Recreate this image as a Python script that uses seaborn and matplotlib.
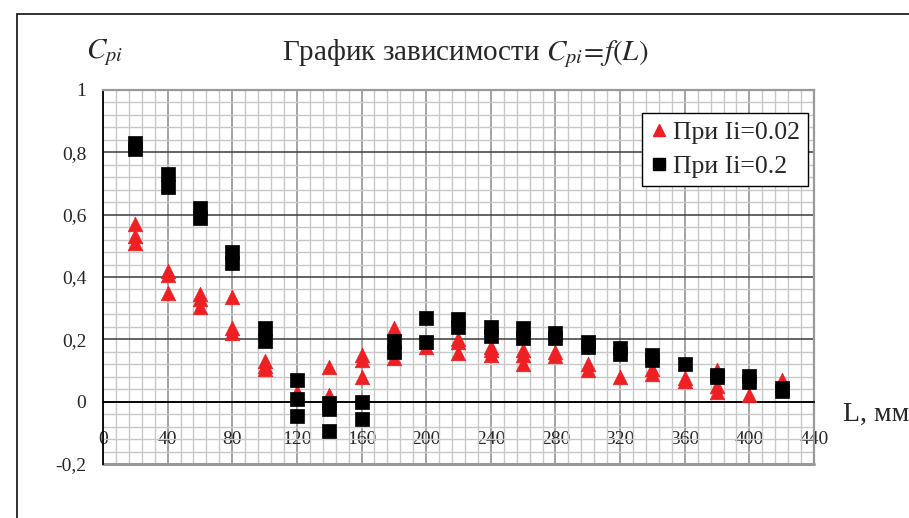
import matplotlib
matplotlib.use("Agg")
import matplotlib.pyplot as plt
from matplotlib.ticker import MultipleLocator, FixedLocator, FuncFormatter
from matplotlib.lines import Line2D
from matplotlib.patches import Rectangle
import numpy as np
import pandas as pd
import seaborn as sns

# Measured pressure coefficient C_pi versus distance L (mm)
L_low = [20, 20, 20, 40, 40, 40, 60, 60, 60, 80, 80, 80, 100, 100, 100,
         120, 140, 140, 160, 160, 160, 180, 180, 180, 200,
         220, 220, 220, 240, 240, 240, 260, 260, 260, 280, 280,
         300, 300, 320, 340, 340, 360, 360, 380, 380, 380, 400, 420]
Cp_low = [0.57, 0.53, 0.51, 0.42, 0.405, 0.35, 0.345, 0.33, 0.305, 0.335, 0.235, 0.22,
          0.13, 0.115, 0.105, 0.03, 0.11, 0.02, 0.15, 0.135, 0.08, 0.235, 0.17, 0.14,
          0.175, 0.20, 0.19, 0.155, 0.175, 0.165, 0.15, 0.165, 0.15, 0.12, 0.16, 0.145,
          0.12, 0.10, 0.08, 0.105, 0.09, 0.075, 0.065, 0.10, 0.05, 0.03, 0.02, 0.07]

L_high = [20, 20, 40, 40, 60, 60, 80, 80, 100, 100, 120, 120, 120,
          140, 140, 140, 160, 160, 180, 180, 200, 200, 220, 220, 240, 240,
          260, 260, 280, 280, 300, 300, 320, 320, 340, 340, 360, 380, 380,
          400, 400, 420, 420]
Cp_high = [0.83, 0.81, 0.73, 0.69, 0.62, 0.59, 0.48, 0.445, 0.235, 0.195,
           0.068, 0.01, -0.045, -0.005, -0.025, -0.095, 0.0, -0.055, 0.195, 0.16,
           0.268, 0.19, 0.265, 0.24, 0.24, 0.212, 0.236, 0.204, 0.22, 0.205,
           0.19, 0.175, 0.172, 0.153, 0.149, 0.133, 0.121, 0.087, 0.08,
           0.081, 0.064, 0.045, 0.035]

series_labels = ["При Ii=0.02", "При Ii=0.2"]
x_ticks = list(range(0, 441, 40))
y_ticks = [-0.2, 0, 0.2, 0.4, 0.6, 0.8, 1.0]

RED = "#ee2024"

sns.set_style("white")
plt.rcParams["font.family"] = ["Liberation Serif", "DejaVu Serif"]
plt.rcParams["mathtext.fontset"] = "stix"

W, H = 909, 518
fig = plt.figure(figsize=(W / 100, H / 100), dpi=100)
fig.patch.set_facecolor("white")

# chart-area frame
fig.patches.append(Rectangle((17 / W, -0.1), 1.2, 1 - 14 / H + 0.1,
                             transform=fig.transFigure, fill=False,
                             edgecolor="#222222", linewidth=1.3))

left, right, top, bottom = 103 / W, 814 / W, 1 - 90 / H, 1 - 464 / H
ax = fig.add_axes([left, bottom, right - left, top - bottom])

df_low = pd.DataFrame({"L": L_low, "Cp": Cp_low})
df_high = pd.DataFrame({"L": L_high, "Cp": Cp_high})

sns.scatterplot(data=df_low, x="L", y="Cp", ax=ax, marker="^", s=110,
                color=RED, edgecolor=RED, linewidth=0.5, zorder=3, legend=False)
sns.scatterplot(data=df_high, x="L", y="Cp", ax=ax, marker="s", s=95,
                color="black", edgecolor="black", linewidth=0.5, zorder=4, legend=False)

ax.set_xlim(0, 440)
ax.set_ylim(-0.2, 1.0)
ax.set_xlabel("")
ax.set_ylabel("")

# grid
ax.xaxis.set_major_locator(FixedLocator(x_ticks))
ax.yaxis.set_major_locator(FixedLocator(y_ticks))
ax.xaxis.set_minor_locator(MultipleLocator(8))
ax.yaxis.set_minor_locator(MultipleLocator(0.04))
ax.grid(True, which="minor", color="#c8c8c8", linewidth=1.0)
ax.xaxis.grid(True, which="major", color="#8a8a8a", linewidth=1.1)
ax.yaxis.grid(True, which="major", color="#3a3a3a", linewidth=1.1)
ax.set_axisbelow(True)

# axes: x axis crosses at zero
for s in ["top", "right"]:
    ax.spines[s].set_color("#999999")
    ax.spines[s].set_linewidth(1.6)
ax.spines["left"].set_color("black")
ax.spines["left"].set_linewidth(1.3)
ax.spines["bottom"].set_position(("data", 0))
ax.spines["bottom"].set_color("black")
ax.spines["bottom"].set_linewidth(1.3)
ax.axhline(-0.2, color="#999999", linewidth=2.2, clip_on=False, zorder=2)

ax.tick_params(axis="both", which="minor", length=0)
ax.tick_params(axis="x", which="major", direction="out", length=6, width=1.2,
               color="black", labelsize=14, pad=15)
ax.tick_params(axis="y", which="major", direction="out", length=6, width=1.2,
               color="black", labelsize=14, pad=6)
ax.yaxis.set_major_formatter(FuncFormatter(
    lambda v, p: ("%g" % round(v, 2)).replace(".", ",")))
ax.xaxis.set_major_formatter(FuncFormatter(lambda v, p: "%d" % v))

# titles and axis names
fig.text(465 / W, 1 - 60 / H, "График зависимости $C_{pi}\\!=\\!f(L)$",
         ha="center", va="baseline", fontsize=21)
fig.text(86 / W, 1 - 58 / H, "$C_{pi}$", ha="left", va="baseline", fontsize=21)
fig.text(843 / W, 1 - 421 / H, "L, мм", ha="left", va="baseline", fontsize=20)

# legend
handles = [Line2D([], [], marker="^", color=RED, linestyle="none", markersize=9),
           Line2D([], [], marker="s", color="black", linestyle="none", markersize=8.5)]
leg = ax.legend(handles, series_labels, loc="upper left",
                bbox_to_anchor=((642 - 103) / (814 - 103), 1 - (113 - 90) / (464 - 90)),
                frameon=True, fancybox=False, framealpha=1, edgecolor="black",
                fontsize=18.5, handlelength=0.7, handletextpad=0.2, borderpad=0.3,
                labelspacing=0.45, borderaxespad=0)
leg.get_frame().set_linewidth(1.0)

fig.savefig("out.png", dpi=100, facecolor="white")
